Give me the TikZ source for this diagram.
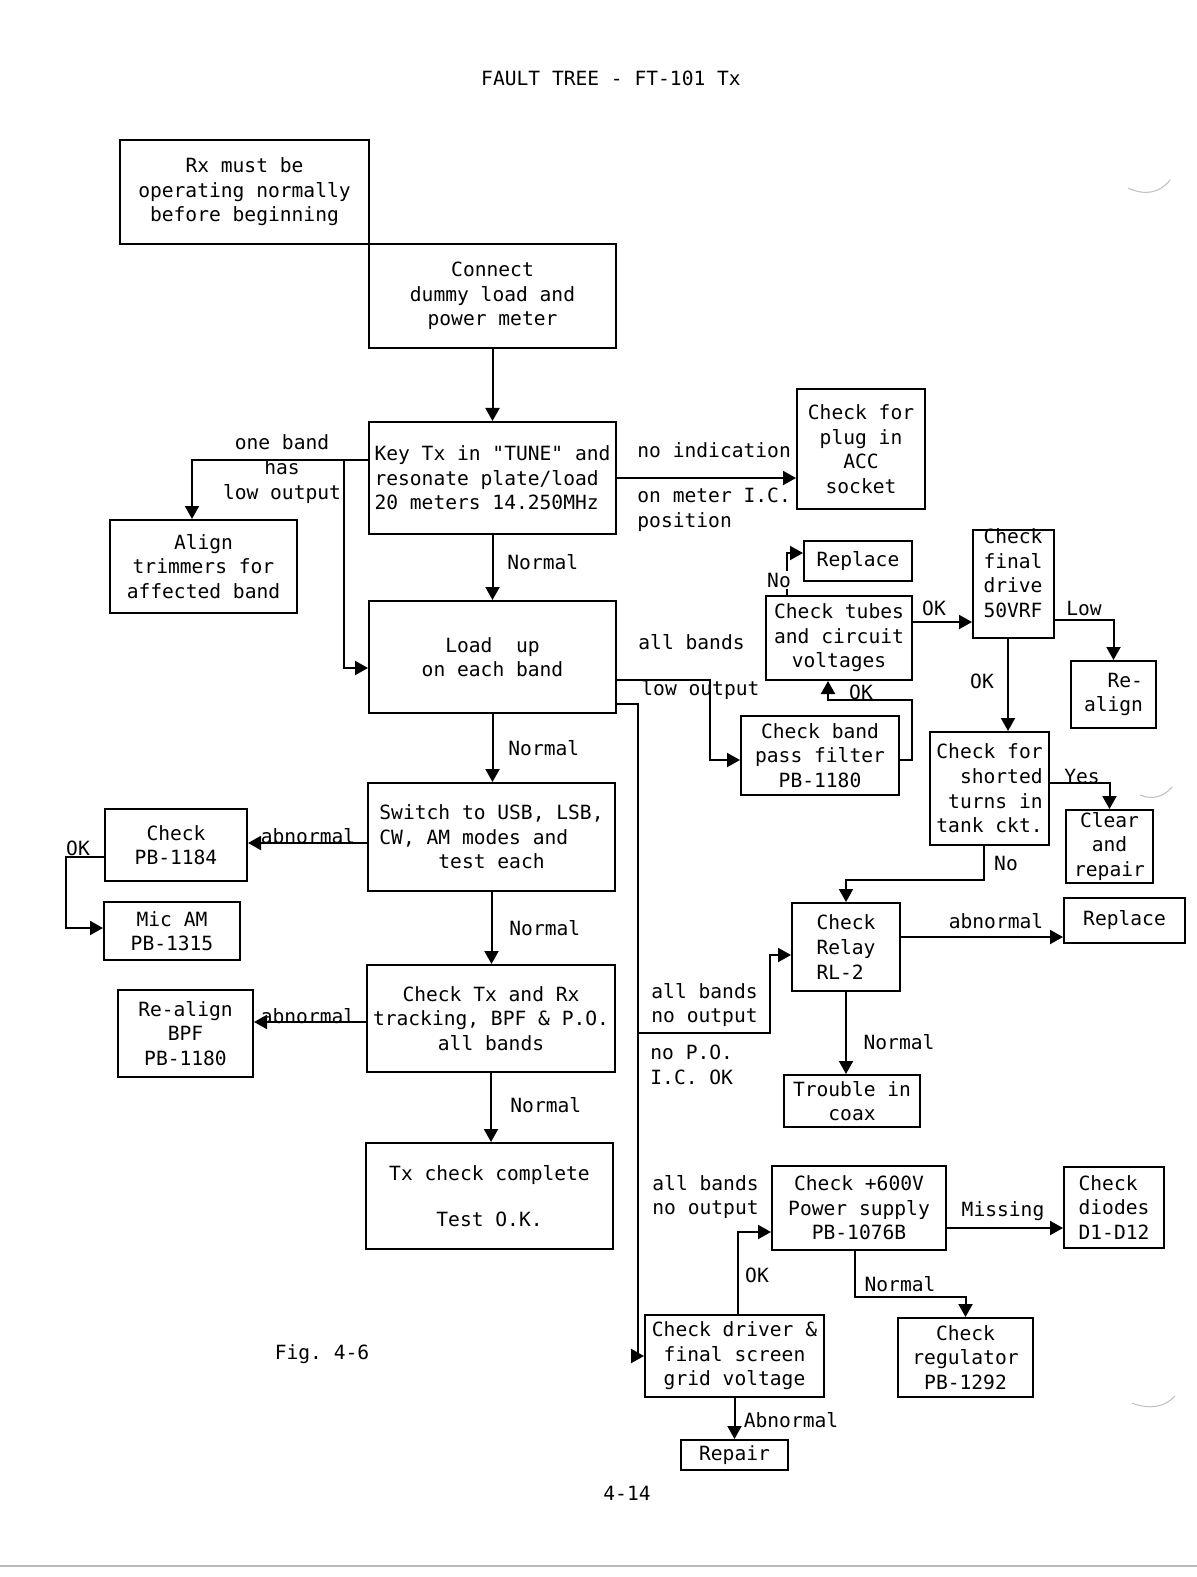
\documentclass[tikz,border=0pt]{standalone}
\usepackage{fontspec}
\setmonofont{DejaVu Sans Mono}
\usetikzlibrary{arrows.meta}
\newcommand\mybox[7][]{\node[box,minimum width={(#5-#3)*0.5pt},minimum height={(#6-#4)*0.5pt},#1] (#2) at ({(#3+#5)/2},{(#4+#6)/2}) {#7};}
\begin{document}
\begin{tikzpicture}[x=0.5pt,y=-0.5pt,
  every node/.style={font=\ttfamily\fontsize{9.8}{12.3}\selectfont, inner sep=0pt},
  box/.style={draw, line width=1pt, align=center},
  arr/.style={line width=1pt, -{Triangle[length=6.5pt,width=7pt]}},
  lbl/.style={align=center},
  lbll/.style={align=left, anchor=west}]
\fill[white] (0,0) rectangle (1197,1577);
\useasboundingbox (0,0) rectangle (1197,1577);
% page edge and punch shadows
\draw[gray!55, line width=0.6pt] (0,1566) -- (1197,1566);
\draw[gray!50, line width=0.5pt] (1128,188) .. controls (1145,196) and (1160,193) .. (1170,180);
\draw[gray!50, line width=0.5pt] (1140,795) .. controls (1152,800) and (1164,797) .. (1172,787);
\draw[gray!50, line width=0.5pt] (1132,1403) .. controls (1150,1410) and (1165,1407) .. (1175,1396);

\node (title) at (611,78) {FAULT TREE - FT-101 Tx};

% boxes
\mybox{A}{120}{140}{369}{244}{Rx must be\\operating normally\\before beginning}
\mybox{B}{369}{244}{616}{348}{Connect\\dummy load and\\power meter}
\mybox[align=left]{C}{369}{422}{616}{534}{Key Tx in "TUNE" and\\resonate plate/load\\20 meters 14.250MHz}
\mybox{D}{797}{389}{925}{509}{Check for\\plug in\\ACC\\socket}
\mybox{E}{110}{520}{297}{613}{Align\\trimmers for\\affected band}
\mybox{F}{369}{601}{616}{713}{Load\ \ up\\on each band}
\mybox{G}{741}{716}{899}{795}{Check band\\pass filter\\PB-1180}
\mybox{H}{766}{596}{912}{680}{Check tubes\\and circuit\\voltages}
\mybox{Hr}{804}{541}{912}{581}{Replace}
\mybox{I}{973}{530}{1054}{638}{}
\node[lbl] (Itxt) at (1013,573) {Check\\final\\drive\\50VRF};
\mybox[align=right]{J}{1071}{661}{1156}{728}{Re-\\align}
\mybox[align=right]{K}{930}{732}{1049}{845}{Check for\\shorted\\turns in\\tank ckt.}
\mybox{L}{1066}{810}{1153}{883}{Clear\\and\\repair}
\mybox[align=left]{M}{792}{903}{900}{991}{Check\\Relay\\RL-2}
\mybox{N}{1064}{898}{1185}{943}{Replace}
\mybox{O}{784}{1075}{920}{1127}{Trouble in\\coax}
\mybox{P}{772}{1166}{946}{1250}{Check +600V\\Power supply\\PB-1076B}
\mybox[align=left]{Q}{1064}{1167}{1164}{1248}{Check\\diodes\\D1-D12}
\mybox{R}{898}{1318}{1033}{1397}{Check\\regulator\\PB-1292}
\mybox{S}{645}{1315}{824}{1397}{Check driver \&\\final screen\\grid voltage}
\mybox{T}{681}{1440}{788}{1470}{Repair}
\mybox[align=left]{U}{368}{783}{615}{891}{Switch to USB, LSB,\\CW, AM modes and\\\phantom{xxxxx}test each}
\mybox{V}{105}{809}{247}{881}{Check\\PB-1184}
\mybox{W}{104}{902}{240}{960}{Mic AM\\PB-1315}
\mybox{X}{367}{965}{615}{1072}{Check Tx and Rx\\tracking, BPF \& P.O.\\all bands}
\mybox{Y}{118}{990}{253}{1077}{Re-align\\BPF\\PB-1180}
\mybox{Z}{366}{1143}{613}{1249}{Tx check complete\\[10.7pt]Test O.K.}

% junction coordinates
\coordinate (j1) at (344,460);
\coordinate (j2) at (638,1033);

% connectors
\draw[arr] (B.south) -- (C.north);
\draw[arr] (C.east) -- (C.east -| D.west);
\draw[arr] (C.north west |- 0,460) -| (E.north -| 192,0);
\draw[arr] (j1) -- (344,668) -- (F.west |- 0,668);
\draw[arr] (C.south) -- (F.north);
\draw[arr] (F.south) -- (F.south |- U.north);
\draw[arr] (U.south) -- (U.south |- X.north);
\draw[arr] (X.south) -- (X.south |- Z.north);
\draw[arr] (U.west |- 0,843) -- (V.east |- 0,843);
\draw[arr] (V.west |- 0,857) -- (66,857) |- (W.west |- 0,928);
\draw[arr] (X.west |- 0,1022) -- (Y.east |- 0,1022);
\draw[arr] (F.east |- 0,680) -- (710,680) |- (G.west |- 0,760);
\draw[arr] (G.east |- 0,760) -- (912,760) -- (912,700) -| (H.south -| 828,0);
\draw[arr] (H.north -| 787,0) |- (Hr.west |- 0,553);
\draw[arr] (H.east |- 0,622) -- (I.west |- 0,622);
\draw[arr] (I.east |- 0,620) -| (J.north);
\draw[arr] (I.south -| 1008,0) -- (K.north -| 1008,0);
\draw[arr] (K.east |- 0,783) -| (L.north);
\draw[arr] (K.south -| 984,0) -- (984,880) -| (M.north);
\draw[arr] (M.east |- 0,937) -- (N.west |- 0,937);
\draw[arr] (M.south) -- (M.south |- O.north);
\draw[arr] (F.east |- 0,704) -- (638,704) |- (S.west);
\draw[arr] (j2) -- (770,1033) |- (M.west |- 0,955);
\draw[arr] (S.north -| 738,0) |- (P.west |- 0,1232);
\draw[arr] (P.east |- 0,1228) -- (Q.west |- 0,1228);
\draw[arr] (P.south -| 855,0) -- (855,1297) -| (R.north);
\draw[arr] (S.south) -- (T.north);

% labels
\node[lbl] (l1) at (282,469) {one band\\has\\low output};
\node[lbll] (l2) at (637,450) {no indication};
\node[lbll] (l3) at (637,510) {on meter I.C.\\position};
\node[lbll] (l4) at (507,562) {Normal};
\node[lbll] (l5) at (638,642) {all bands};
\node[lbll] (l6) at (641,690) {low output};
\node (l7) at (934,608) {OK};
\node[fill=white, inner sep=1pt] (l8) at (779,580) {No};
\node (l9) at (861,692) {OK};
\node (l10) at (1084,608) {Low};
\node (l11) at (982,681) {OK};
\node (l12) at (1082,776) {Yes};
\node (l13) at (1006,863) {No};
\node (l14) at (996,921) {abnormal};
\node (l15) at (899,1042) {Normal};
\node[lbll] (l16) at (651,1005) {all bands\\no output};
\node[lbll] (l17) at (650,1065) {no P.O.\\I.C. OK};
\node[lbll] (l18) at (652,1197) {all bands\\no output};
\node (l19) at (757,1275) {OK};
\node (l20) at (1003,1211) {Missing};
\node (l21) at (900,1284) {Normal};
\node (l22) at (791,1420) {Abnormal};
\node (l23) at (308,836) {abnormal};
\node (l24) at (308,1016) {abnormal};
\node (l25) at (78,848) {OK};
\node[lbll] (l26) at (508,748) {Normal};
\node[lbll] (l27) at (509,928) {Normal};
\node[lbll] (l28) at (510,1105) {Normal};
\node (fig) at (322,1354) {Fig. 4-6};
\node (pg) at (627,1493) {4-14};
\end{tikzpicture}
\end{document}
